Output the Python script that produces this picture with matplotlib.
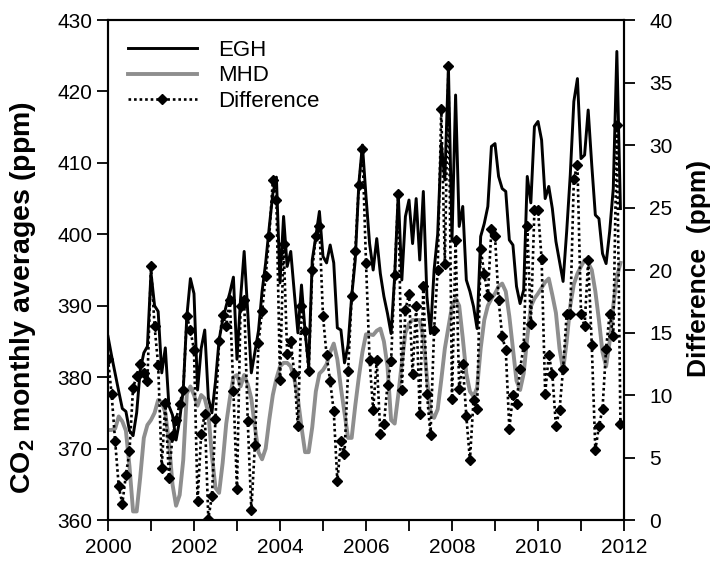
import numpy as np
import matplotlib
matplotlib.use('Agg')
import matplotlib.pyplot as plt

# monthly CO2 averages, Jan 2000 - Dec 2011 (ppm)
egh = [
    385.7, 383.0, 380.5, 378.0, 375.6, 375.2, 372.5, 371.8, 375.0, 381.0, 383.4, 384.3,  # 2000
    394.6, 390.0, 389.2, 380.6, 384.1, 376.0, 374.7, 371.2, 374.0, 378.2, 388.5, 393.8,  # 2001
    391.7, 378.2, 384.0, 386.6, 377.1, 375.0, 379.4, 385.2, 388.0, 390.0, 391.8, 394.0,  # 2002
    382.5, 391.0, 397.6, 389.0, 380.6, 383.5, 386.5, 392.0, 396.0, 401.0, 405.7, 408.0,  # 2003
    393.2, 402.5, 395.5, 397.6, 391.8, 386.2, 392.9, 386.4, 381.5, 396.4, 399.7, 403.2,  # 2004
    396.9, 396.0, 398.5, 396.0, 386.9, 386.6, 382.0, 384.5, 391.3, 396.4, 407.1, 412.5,  # 2005
    405.3, 398.7, 395.0, 399.4, 394.5, 391.3, 388.9, 386.1, 394.1, 405.7, 393.6, 402.5,  # 2006
    404.8, 398.7, 405.0, 396.4, 406.0, 391.3, 386.1, 395.0, 400.0, 412.7, 407.6, 423.5,  # 2007
    399.2, 419.5, 401.1, 403.9, 393.6, 392.0, 389.9, 386.8, 399.7, 401.5, 403.9, 412.3,  # 2008
    412.7, 408.1, 406.4, 406.0, 399.2, 398.5, 392.7, 390.3, 392.2, 408.1, 404.4, 415.1,  # 2009
    415.8, 413.2, 405.0, 406.7, 403.6, 399.0, 396.2, 393.4, 400.4, 408.3, 418.6, 421.8,  # 2010
    410.6, 411.1, 417.4, 409.7, 402.7, 402.2, 397.3, 395.9, 400.4, 406.4, 425.6, 403.6,  # 2011
]

mhd = [
    372.6, 372.6, 372.8, 374.5, 373.8, 372.5, 367.5, 361.2, 361.2, 366.0, 371.5, 373.3,
    374.0, 375.0, 376.8, 376.5, 375.0, 371.0, 365.0, 362.0, 363.5, 368.4, 377.7, 378.7,
    377.5, 376.0, 377.5, 377.0, 375.0, 369.0, 364.5, 363.8, 368.0, 373.5, 377.0, 380.0,
    380.3, 378.7, 380.3, 379.0, 377.0, 373.0, 369.5, 368.5, 370.0, 374.0, 377.5, 379.8,
    381.5, 382.0, 382.0, 381.5, 379.8, 377.0, 373.0, 369.5, 369.5, 373.0, 378.0, 380.5,
    381.0, 381.8, 383.5, 384.7, 382.5, 378.5, 375.0, 371.5, 371.5, 376.0, 380.0, 383.5,
    386.0, 386.0, 385.9, 386.5, 386.8, 385.0, 381.5, 374.0, 373.5, 377.5, 382.0, 386.2,
    387.5, 388.0, 388.0, 388.0, 385.5, 380.0, 375.0, 374.3, 375.5, 379.6, 384.0, 387.0,
    389.9, 391.0, 390.0, 385.5, 380.5, 378.0, 377.3, 378.5, 384.0, 388.0, 390.0, 391.0,
    391.7, 392.7, 393.1, 392.0, 388.5, 384.0, 379.5, 378.2, 380.5, 385.5, 389.9, 391.0,
    391.7, 392.5, 393.3, 393.8, 391.5, 389.0, 384.0, 381.0, 385.0, 390.0, 393.0, 394.5,
    395.5, 396.4, 396.0, 395.0, 392.0, 388.0, 383.5, 381.5, 385.0, 390.0, 394.0, 396.0,
]

difference = [
    12.9, 10.1, 6.3, 2.7, 1.3, 3.6, 5.5, 10.6, 11.5, 12.5, 11.8, 11.1,
    20.3, 15.5, 12.4, 4.2, 9.4, 3.4, 6.7, 8.0, 9.3, 10.4, 16.3, 15.2,
    13.6, 1.5, 6.9, 8.5, 0.1, 1.9, 8.1, 14.3, 16.4, 15.5, 17.6, 10.3,
    2.5, 17.1, 17.6, 7.9, 0.8, 6.0, 14.2, 16.7, 19.5, 22.7, 27.2, 25.6,
    11.2, 22.1, 13.3, 14.3, 11.7, 7.5, 17.1, 15.1, 11.9, 20.0, 22.7, 23.5,
    16.3, 13.2, 11.1, 8.7, 3.1, 6.3, 5.3, 11.9, 17.9, 21.5, 26.8, 29.7,
    20.6, 12.8, 8.8, 12.8, 6.9, 7.7, 10.8, 12.7, 19.6, 26.1, 10.4, 16.8,
    18.1, 11.7, 17.1, 8.5, 18.7, 10.1, 6.8, 15.2, 20.0, 32.9, 20.5, 36.3,
    9.7, 22.4, 10.5, 12.5, 8.3, 4.8, 9.6, 8.9, 21.7, 19.7, 17.9, 23.3,
    22.7, 17.6, 14.7, 13.6, 7.3, 10.0, 9.3, 12.1, 13.9, 23.5, 15.7, 24.8,
    24.8, 20.9, 10.1, 13.2, 11.7, 7.5, 8.8, 12.1, 16.5, 16.5, 27.3, 28.4,
    16.5, 15.5, 20.8, 14.0, 5.6, 7.5, 8.9, 13.7, 16.5, 14.7, 31.6, 7.7,
]

years = list(range(2000, 2013))
year_labels = [str(y) if y % 2 == 0 else '' for y in years]

plt.rcParams['font.family'] = ['Liberation Sans', 'DejaVu Sans']
plt.rcParams['mathtext.fontset'] = 'custom'
plt.rcParams['mathtext.rm'] = 'Liberation Sans'
plt.rcParams['mathtext.bf'] = 'Liberation Sans:bold'

t = 2000 + np.arange(len(egh)) / 12.0

fig = plt.figure(figsize=(7.18, 5.72), dpi=100)
ax = fig.add_axes([0.1504, 0.0909, 0.7187, 0.8741])
ax2 = ax.twinx()

l1, = ax.plot(t, egh, color='black', lw=2.1, label='EGH')
l2, = ax.plot(t, mhd, color='#8e8e8e', lw=2.8, label='MHD')
l3, = ax2.plot(t, difference, color='black', ls=(0, (1, 1.1)), lw=1.9,
               marker='D', ms=4.8, label='Difference')

ax.set_xlim(2000, 2012)
ax.set_ylim(360, 430)
ax2.set_ylim(0, 40)
ax.set_xticks(years)
ax.set_xticklabels(year_labels)
ax.set_yticks(range(360, 431, 10))
ax2.set_yticks(range(0, 41, 5))

for a in (ax, ax2):
    a.tick_params(direction='out', length=8, width=1.3, labelsize=15)
    for s in a.spines.values():
        s.set_linewidth(1.5)
ax.tick_params(axis='y', pad=3)
ax.tick_params(axis='x', pad=5)
ax2.tick_params(axis='y', pad=10)

fig.text(0.032, 0.479, 'CO$_\\mathbf{2}$ monthly averages (ppm)', rotation=90,
         ha='center', va='center', fontsize=20.5, fontweight='bold')
fig.text(0.974, 0.531, 'Difference  (ppm)', rotation=90,
         ha='center', va='center', fontsize=19, fontweight='bold')

ax.legend(handles=[l1, l2, l3], loc='upper left',
          bbox_to_anchor=(128 / 718, 1 - 40 / 572), bbox_transform=fig.transFigure,
          frameon=False, fontsize=16, handlelength=3.1, handletextpad=0.95,
          labelspacing=0.2, borderpad=0, borderaxespad=0)

fig.savefig('out.png', dpi=100)
